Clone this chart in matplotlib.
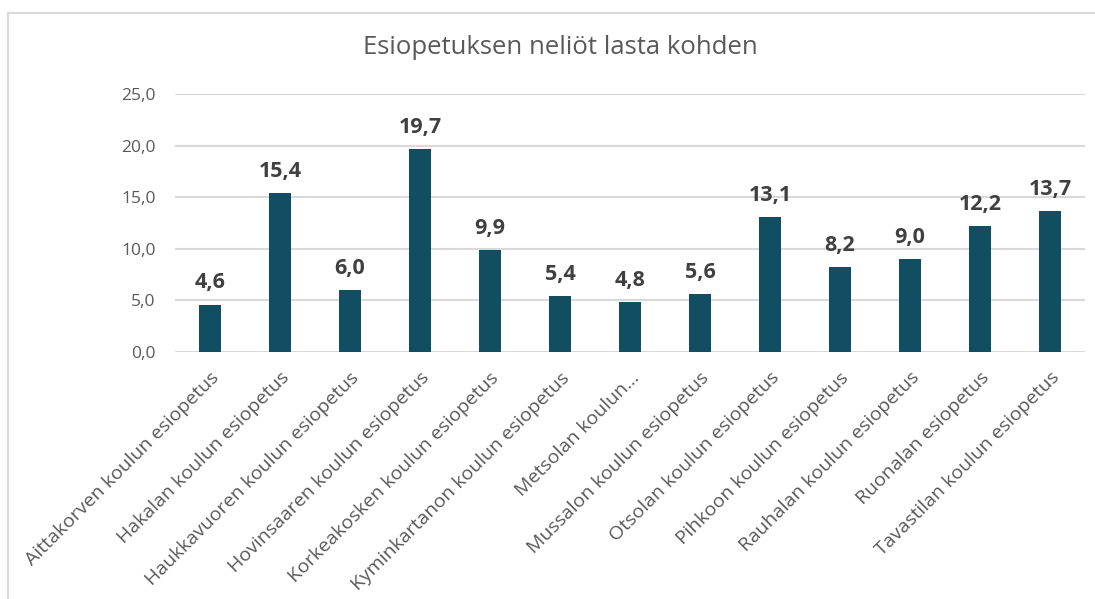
import matplotlib.pyplot as plt
from matplotlib.lines import Line2D
from matplotlib.ticker import FuncFormatter

schools = [
    "Aittakorven koulun esiopetus",
    "Hakalan koulun esiopetus",
    "Haukkavuoren koulun esiopetus",
    "Hovinsaaren koulun esiopetus",
    "Korkeakosken koulun esiopetus",
    "Kyminkartanon koulun esiopetus",
    "Metsolan koulun\u2026",
    "Mussalon koulun esiopetus",
    "Otsolan koulun esiopetus",
    "Pihkoon koulun esiopetus",
    "Rauhalan koulun esiopetus",
    "Ruonalan esiopetus",
    "Tavastilan koulun esiopetus",
]
values = [4.6, 15.4, 6.0, 19.7, 9.9, 5.4, 4.8, 5.6, 13.1, 8.2, 9.0, 12.2, 13.7]
yticks = [0, 5, 10, 15, 20, 25]

plt.rcParams['font.family'] = ['Open Sans', 'DejaVu Sans']

W, H = 1095, 599
fig = plt.figure(figsize=(W / 100, H / 100), dpi=100)
ax = fig.add_axes([175 / W, 1 - 352 / H, 910 / W, 258 / H])

x = range(len(schools))
ax.bar(x, values, width=0.32, color='#124E61', zorder=3)
for i, v in enumerate(values):
    ax.annotate(f"{v:.1f}".replace('.', ','), (i, v), xytext=(0, 8),
                textcoords='offset points', ha='center', va='bottom',
                fontsize=15.5, fontweight='bold', color='#404040')

ax.set_xlim(-0.5, len(schools) - 0.5)
ax.set_ylim(0, 25)
ax.set_yticks(yticks)
ax.yaxis.set_major_formatter(FuncFormatter(lambda v, p: f"{v:.1f}".replace('.', ',')))
ax.grid(axis='y', color='#d9d9d9', linewidth=1.5, zorder=0)
for s in ax.spines.values():
    s.set_visible(False)
ax.tick_params(axis='y', length=0, labelsize=12.5, colors='#595959', pad=14)
ax.tick_params(axis='x', length=0, labelsize=14, colors='#595959', pad=12)
ax.set_xticks(list(x))
ax.set_xticklabels(schools, rotation=45, ha='right', va='top', rotation_mode='anchor')

fig.text(560 / W, 1 - 48 / H, "Esiopetuksen neliöt lasta kohden", ha='center', va='center',
         fontsize=18.5, color='#595959')

# chart frame
fig.add_artist(Line2D([8 / W, 1], [1 - 13 / H, 1 - 13 / H], color='#d9d9d9', linewidth=1.5))
fig.add_artist(Line2D([8 / W, 8 / W], [0, 1 - 13 / H], color='#d9d9d9', linewidth=1.5))

fig.savefig("out.png", dpi=100)
